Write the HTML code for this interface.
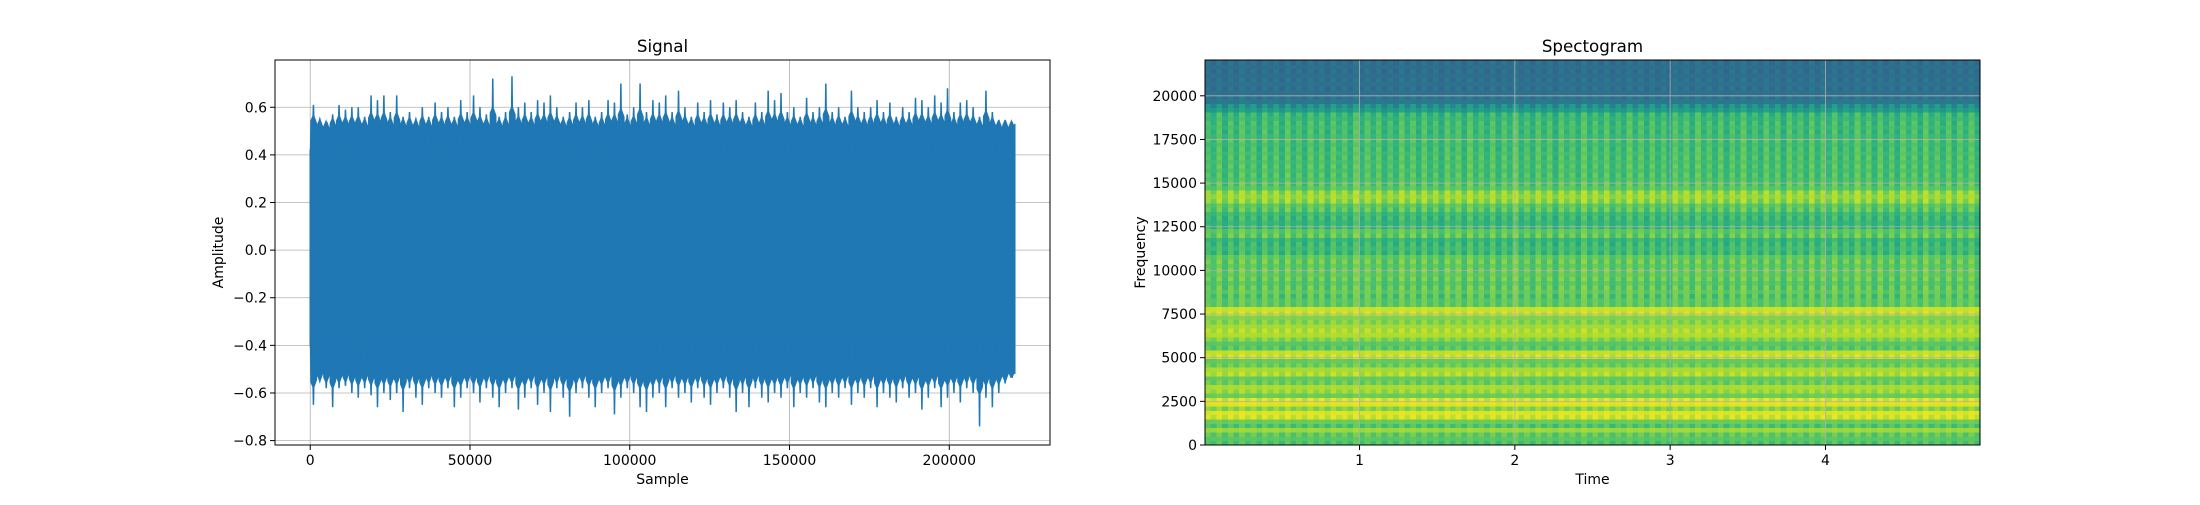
<!DOCTYPE html>
<html><head><meta charset="utf-8"><style>
html,body{margin:0;padding:0;background:#fff;}
svg text{font-family:"DejaVu Sans","Liberation Sans",sans-serif;fill:#000;}
</style></head><body>
<svg id="fig" width="2200" height="500" viewBox="0 0 2200 500" xmlns="http://www.w3.org/2000/svg">
<rect width="2200" height="500" fill="#fff"/>
<g id="sig"></g>
<g id="spec"></g>
</svg>
<script>
// ---- Signal data (peak envelope per bin) ----
const sigUpper=[0.61,0.55,0.53,0.57,0.61,0.59,0.60,0.60,0.56,0.65,0.63,0.65,0.58,0.65,0.56,0.58,0.55,0.60,0.56,0.62,0.58,0.60,0.56,0.63,0.58,0.65,0.60,0.57,0.72,0.56,0.58,0.73,0.60,0.62,0.58,0.63,0.62,0.65,0.60,0.56,0.58,0.62,0.60,0.63,0.56,0.58,0.63,0.62,0.70,0.57,0.60,0.70,0.58,0.63,0.62,0.65,0.58,0.67,0.60,0.56,0.62,0.58,0.63,0.57,0.62,0.60,0.63,0.58,0.56,0.62,0.58,0.67,0.63,0.66,0.58,0.60,0.56,0.64,0.58,0.60,0.70,0.58,0.60,0.56,0.67,0.60,0.58,0.60,0.63,0.58,0.62,0.56,0.60,0.58,0.64,0.63,0.60,0.65,0.62,0.68,0.58,0.62,0.63,0.60,0.56,0.67,0.58,0.54,0.54,0.53];
const sigLower=[-0.65,-0.55,-0.58,-0.66,-0.58,-0.57,-0.60,-0.62,-0.58,-0.61,-0.66,-0.60,-0.63,-0.60,-0.68,-0.58,-0.62,-0.65,-0.58,-0.60,-0.62,-0.58,-0.66,-0.62,-0.58,-0.60,-0.64,-0.58,-0.62,-0.66,-0.60,-0.58,-0.67,-0.62,-0.58,-0.65,-0.60,-0.68,-0.58,-0.62,-0.70,-0.60,-0.58,-0.62,-0.66,-0.60,-0.58,-0.69,-0.62,-0.58,-0.60,-0.66,-0.68,-0.62,-0.60,-0.66,-0.58,-0.62,-0.60,-0.64,-0.58,-0.62,-0.65,-0.60,-0.58,-0.62,-0.68,-0.60,-0.66,-0.58,-0.62,-0.64,-0.60,-0.62,-0.58,-0.66,-0.60,-0.62,-0.58,-0.64,-0.66,-0.60,-0.62,-0.58,-0.65,-0.60,-0.62,-0.58,-0.66,-0.60,-0.62,-0.64,-0.58,-0.62,-0.60,-0.67,-0.62,-0.58,-0.66,-0.62,-0.60,-0.64,-0.58,-0.60,-0.74,-0.62,-0.66,-0.60,-0.56,-0.52];
const sigBody=[0.42,-0.40];
const sigSamples=220500;
const sigXTicks=[0,50000,100000,150000,200000];
const sigYTicks=[-0.8,-0.6,-0.4,-0.2,0.0,0.2,0.4,0.6];

// ---- Spectrogram data ----
const specBands=[0.72,0.74,0.75,0.85,0.72,0.77,0.93,0.95,0.82,0.95,0.94,0.77,0.85,0.87,0.77,0.76,0.88,0.87,0.77,0.76,0.92,0.91,0.74,0.74,0.81,0.88,0.88,0.86,0.81,0.81,0.92,0.92,0.75,0.75,0.73,0.76,0.75,0.73,0.76,0.75,0.76,0.74,0.76,0.75,0.67,0.69,0.67,0.66,0.75,0.75,0.67,0.66,0.67,0.68,0.74,0.74,0.83,0.85,0.83,0.74,0.73,0.71,0.71,0.70,0.71,0.70,0.70,0.70,0.69,0.69,0.70,0.69,0.68,0.69,0.68,0.67,0.66,0.55,0.50,0.40,0.38,0.37,0.37,0.37,0.37,0.36,0.36,0.36,0.36];
const specCols=[0.02,-0.04,0.06,-0.06,0.05,-0.05,0.07,-0.03,0.04,-0.07,0.06,-0.04,0.05,-0.06,0.07,-0.05,0.03,-0.06,0.06,-0.04,0.05,-0.07,0.06,-0.03,0.04,-0.06,0.07,-0.05,0.05,-0.04,0.06,-0.06,0.03,-0.05,0.07,-0.04,0.05,-0.06,0.06,-0.05,0.04,-0.07,0.06,-0.03,0.05,-0.06,0.07,-0.04,0.04,-0.05,0.06,-0.06,0.05,-0.04,0.07,-0.05,0.03,-0.06,0.06,-0.04,0.05,-0.07,0.06,-0.03,0.04,-0.06,0.07,-0.05,0.05,-0.04,0.06,-0.06,0.03,-0.05,0.07,-0.04,0.05,-0.06,0.06,-0.05,0.04,-0.07,0.06,-0.03,0.05,-0.06,0.07,-0.04,0.04,-0.05,0.06,-0.06,0.05,-0.04,0.07,-0.05,0.03,-0.06,0.06,-0.04,0.05,-0.07,0.06,-0.03,0.04,-0.06,0.07,-0.05,0.05,-0.04,0.06,-0.06,0.03,-0.05,0.07,-0.04,0.05,-0.06,0.06,-0.05,0.04,-0.07,0.06,-0.03,0.05,-0.06,0.07,-0.04,0.04,-0.05,0.06,-0.06,0.05,-0.04,0.06,-0.05];
const specTimeMax=5.0;
const specFreqMax=22050;
const specXTicks=[1,2,3,4];
const specYTicks=[0,2500,5000,7500,10000,12500,15000,17500,20000];

const NS='http://www.w3.org/2000/svg';
function mk(tag,attrs,parent){const e=document.createElementNS(NS,tag);for(const k in attrs)e.setAttribute(k,attrs[k]);parent.appendChild(e);return e;}

const VIR=[[68,1,84],[72,40,120],[62,74,137],[49,104,142],[38,130,142],[31,158,137],[53,183,121],[109,205,89],[180,222,44],[253,231,37]];
function viridis(t){t=Math.max(0,Math.min(1,t));const p=t*(VIR.length-1);const i=Math.min(VIR.length-2,Math.floor(p));const f=p-i;const a=VIR[i],b=VIR[i+1];return 'rgb('+[0,1,2].map(k=>Math.round(a[k]+(b[k]-a[k])*f)).join(',')+')';}

// ===== Signal chart =====
(function(){
const g=document.getElementById('sig');
const L=275,R=1050,T=60,B=445;
const xmin=-0.05*sigSamples,xmax=1.05*sigSamples;
const ymin=-0.8185,ymax=0.7985;
const X=v=>L+(v-xmin)/(xmax-xmin)*(R-L);
const Y=v=>T+(ymax-v)/(ymax-ymin)*(B-T);
sigXTicks.forEach(v=>{const l=mk('line',{x1:X(v),x2:X(v),y1:T,y2:B,stroke:'#b0b0b0','stroke-width':0.8},g);
});
sigYTicks.forEach(v=>{const l=mk('line',{x1:L,x2:R,y1:Y(v),y2:Y(v),stroke:'#b0b0b0','stroke-width':0.8},g);
});
const n=sigUpper.length,bw=sigSamples/n;
let d='M'+X(0)+','+Y(sigBody[0]);
for(let i=0;i<n;i++){const x0=i*bw;
  const hu=0.54+(sigUpper[i]-0.6)*0.3;
  d+=' L'+X(x0+bw*0.06)+','+Y(sigBody[0])+' L'+X(x0+bw*0.14)+','+Y(hu)+' L'+X(x0+bw*0.45)+','+Y(hu+0.02)+' L'+X(x0+bw*0.5)+','+Y(sigUpper[i])+' L'+X(x0+bw*0.55)+','+Y(hu+0.02)+' L'+X(x0+bw*0.95)+','+Y(hu-0.01);}
d+=' L'+X(sigSamples)+','+Y(0.53)+' L'+X(sigSamples)+','+Y(-0.52);
for(let i=n-1;i>=0;i--){const x0=i*bw;
  const hl=-0.54+(sigLower[i]+0.6)*0.3;
  d+=' L'+X(x0+bw*0.95)+','+Y(hl+0.01)+' L'+X(x0+bw*0.55)+','+Y(hl-0.02)+' L'+X(x0+bw*0.5)+','+Y(sigLower[i])+' L'+X(x0+bw*0.45)+','+Y(hl-0.02)+' L'+X(x0+bw*0.14)+','+Y(hl)+' L'+X(x0+bw*0.06)+','+Y(sigBody[1]);}
d+=' L'+X(0)+','+Y(sigBody[1])+' Z';
const w=mk('path',{d:d,fill:'#1f77b4',stroke:'#1f77b4','stroke-width':1.5,'stroke-linejoin':'miter'},g);

const fr=mk('rect',{x:L,y:T,width:R-L,height:B-T,fill:'none',stroke:'#000','stroke-width':1},g);

sigXTicks.forEach(v=>{mk('line',{x1:X(v),x2:X(v),y1:B,y2:B+5,stroke:'#000','stroke-width':1},g);
const t=mk('text',{x:X(v),y:B+20,'text-anchor':'middle','font-size':14},g);t.textContent=String(v);
});
sigYTicks.forEach(v=>{mk('line',{x1:L-5,x2:L,y1:Y(v),y2:Y(v),stroke:'#000','stroke-width':1},g);
const t=mk('text',{x:L-8,y:Y(v)+5,'text-anchor':'end','font-size':14},g);t.textContent=(v<0?'\u2212':'')+Math.abs(v).toFixed(1);
});
let t=mk('text',{x:(L+R)/2,y:52,'text-anchor':'middle','font-size':16.7},g);t.textContent='Signal';

t=mk('text',{x:(L+R)/2,y:484,'text-anchor':'middle','font-size':14},g);t.textContent='Sample';

t=mk('text',{x:0,y:0,'text-anchor':'middle','font-size':14,transform:'translate(223,'+((T+B)/2)+') rotate(-90)'},g);t.textContent='Amplitude';

})();

// ===== Spectrogram =====
(function(){
const g=document.getElementById('spec');
const L=1205,R=1980,T=60,B=445;
const tmin=0.005,tmax=4.995;
const X=v=>L+(v-tmin)/(tmax-tmin)*(R-L);
const Y=v=>B-v/specFreqMax*(B-T);
const nb=specBands.length,nc=specCols.length;
const bh=specFreqMax/nb, cw=(tmax-tmin)/nc;
const cells=mk('g',{'shape-rendering':'crispEdges'},g);

for(let r=0;r<nb;r++){
  const f0=r*bh;const wgt=f0>19500?0.35:(f0>8000?0.9:0.45);
  for(let c=0;c<nc;c++){
    const v=specBands[r]+specCols[c]*wgt+specCols[(c*7+r*3)%nc]*0.3;
    const x0=X(tmin+c*cw),x1=X(tmin+(c+1)*cw),y0=Y(f0+bh),y1=Y(f0);
    const e=mk('rect',{x:x0,y:y0,width:x1-x0+0.5,height:y1-y0+0.5,fill:viridis(v)},cells);
    
    
  }
}
specXTicks.forEach(v=>{const l=mk('line',{x1:X(v),x2:X(v),y1:T,y2:B,stroke:'#b0b0b0','stroke-width':0.8},g);
});
specYTicks.forEach(v=>{const l=mk('line',{x1:L,x2:R,y1:Y(v),y2:Y(v),stroke:'#b0b0b0','stroke-width':0.8},g);
});
const fr=mk('rect',{x:L,y:T,width:R-L,height:B-T,fill:'none',stroke:'#000','stroke-width':1},g);

specXTicks.forEach(v=>{mk('line',{x1:X(v),x2:X(v),y1:B,y2:B+5,stroke:'#000','stroke-width':1},g);
const t=mk('text',{x:X(v),y:B+20,'text-anchor':'middle','font-size':14},g);t.textContent=String(v);
});
specYTicks.forEach(v=>{mk('line',{x1:L-5,x2:L,y1:Y(v),y2:Y(v),stroke:'#000','stroke-width':1},g);
const t=mk('text',{x:L-8,y:Y(v)+5,'text-anchor':'end','font-size':14},g);t.textContent=String(v);
});
let t=mk('text',{x:(L+R)/2,y:52,'text-anchor':'middle','font-size':16.7},g);t.textContent='Spectogram';

t=mk('text',{x:(L+R)/2,y:484,'text-anchor':'middle','font-size':14},g);t.textContent='Time';

t=mk('text',{x:0,y:0,'text-anchor':'middle','font-size':14,transform:'translate(1145,'+((T+B)/2)+') rotate(-90)'},g);t.textContent='Frequency';

})();
</script>
</body></html>
